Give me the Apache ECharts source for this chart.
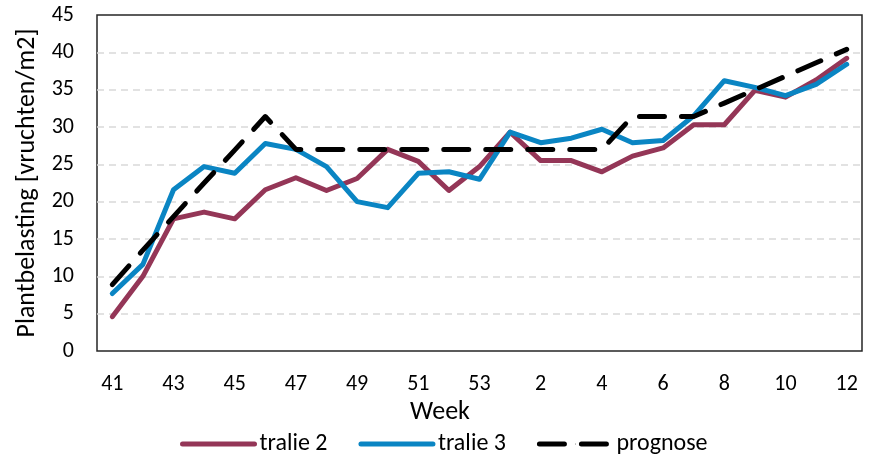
<!DOCTYPE html>
<html>
<head>
<meta charset="utf-8">
<script src="https://cdn.jsdelivr.net/npm/echarts@6/dist/echarts.min.js"></script>
<style>
  html, body { margin: 0; padding: 0; background: #fff; }
  #chart { width: 871px; height: 455px; }
</style>
</head>
<body>
<div id="chart"></div>
<script>
  var FONT = "Carlito, 'Liberation Sans Narrow', 'Open Sans', sans-serif";
  var MAROON = "#943657", BLUE = "#0a85c3";

  var weeks = ["41", "42", "43", "44", "45", "46", "47", "48", "49", "50", "51", "52", "53",
               "1", "2", "3", "4", "5", "6", "7", "8", "9", "10", "11", "12"];
  var tralie2 = [4.6, 10.0, 17.7, 18.6, 17.7, 21.6, 23.2, 21.5, 23.1, 27.0, 25.4, 21.5, 24.7,
                 29.3, 25.5, 25.5, 24.0, 26.1, 27.2, 30.3, 30.3, 34.9, 34.0, 36.3, 39.2];
  var tralie3 = [7.7, 11.6, 21.6, 24.7, 23.8, 27.8, 27.0, 24.7, 20.0, 19.2, 23.8, 24.0, 23.0,
                 29.3, 27.9, 28.5, 29.7, 27.9, 28.2, 31.5, 36.2, 35.3, 34.2, 35.7, 38.4];
  var prognose = [8.9, 13.5, 18.0, 22.5, 26.9, 31.4, 27.0, 27.0, 27.0, 27.0, 27.0, 27.0, 27.0,
                  27.0, 27.0, 27.0, 27.0, 31.4, 31.4, 31.4, 33.2, 35.0, 36.8, 38.6, 40.4];

  var chart = echarts.init(document.getElementById("chart"));
  chart.setOption({
    animation: false,
    textStyle: { fontFamily: FONT },
    grid: { left: 97, right: 9, top: 15, bottom: 104, show: true, borderColor: "#262626", borderWidth: 1.5, backgroundColor: "transparent" },
    legend: {
      left: 175, top: 427, itemWidth: 72, itemHeight: 1, itemGap: 31,
      lineStyle: { width: 5, cap: "round" },
      textStyle: { fontSize: 24, color: "#000", fontFamily: FONT },
      data: ["tralie 2", "tralie 3", "prognose"]
    },
    graphic: [{ type: "text", x: 440, y: 412, style: { text: "Week", fontSize: 26, fontFamily: FONT, fill: "#000", align: "center", verticalAlign: "middle" } }],
    xAxis: {
      type: "category", data: weeks, boundaryGap: true,
      axisLine: { show: false }, axisTick: { show: false },
      axisLabel: { interval: 1, fontSize: 22, color: "#000", margin: 22 }
    },
    yAxis: {
      type: "value", min: 0, max: 45, interval: 5,
      name: "Plantbelasting [vruchten/m2]", nameLocation: "middle", nameGap: 57,
      nameTextStyle: { fontSize: 26, color: "#000", fontFamily: FONT },
      axisLine: { show: false }, axisTick: { show: false },
      axisLabel: { fontSize: 22, color: "#000", margin: 23 },
      splitLine: { showMinLine: false, showMaxLine: false, lineStyle: { color: "#d9d9d9", width: 1.5, type: [7, 5] } }
    },
    series: [
      { name: "tralie 2", type: "line", data: tralie2, symbol: "none", itemStyle: { color: MAROON },
        lineStyle: { color: MAROON, width: 5, join: "round", cap: "round" } },
      { name: "tralie 3", type: "line", data: tralie3, symbol: "none", itemStyle: { color: BLUE },
        lineStyle: { color: BLUE, width: 5, join: "round", cap: "round" } },
      { name: "prognose", type: "line", data: prognose, symbol: "none", itemStyle: { color: "#000" },
        lineStyle: { color: "#000", width: 5, type: [25, 17], cap: "round", join: "round" } }
    ]
  });
</script>
</body>
</html>
